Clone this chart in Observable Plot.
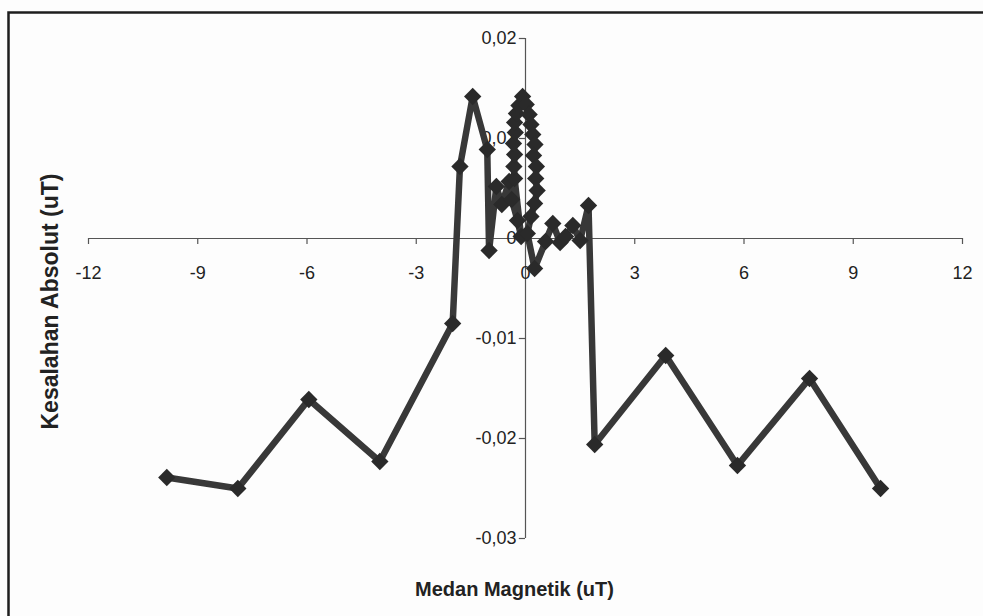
<!DOCTYPE html>
<html>
<head>
<meta charset="utf-8">
<script src="https://cdn.jsdelivr.net/npm/d3@7"></script>
<script src="https://cdn.jsdelivr.net/npm/@observablehq/plot@0.6"></script>
<style>
  html, body { margin: 0; padding: 0; background: #fdfdfd; }
  #chart { width: 983px; height: 616px; }
</style>
</head>
<body>
<div id="chart"></div>
<script>
// Medan Magnetik (uT)
const xs = [-9.85, -7.9, -5.95, -4.0, -2.0, -1.8, -1.45, -1.05, -1.0, -0.8, -0.65, -0.45, -0.38, -0.22, -0.12,
  -0.3, -0.32, -0.3, -0.33, -0.28, -0.3, -0.25, -0.18, -0.08, 0.02, 0.1, 0.15, 0.2, 0.26, 0.22, 0.3, 0.28, 0.32, 0.25, 0.15, 0.05, 0.25,
  0.55, 0.75, 0.95, 1.1, 1.3, 1.5, 1.73, 1.9, 3.85, 5.82, 7.8, 9.75];
// Kesalahan Absolut (uT)
const ys = [-0.0239, -0.025, -0.0161, -0.0223, -0.0085, 0.0072, 0.0142, 0.0089, -0.0012, 0.0052, 0.0034, 0.0057, 0.0039, 0.0018, 0.0002,
  0.0060, 0.0072, 0.0084, 0.0095, 0.0106, 0.0116, 0.0125, 0.0133, 0.0142, 0.0134, 0.0124, 0.0114, 0.0104, 0.0094, 0.0083, 0.0072, 0.0060, 0.0048, 0.0035, 0.0022, 0.0005, -0.0030,
  -0.0003, 0.0015, -0.0004, 0.0002, 0.0013, -0.0002, 0.0033, -0.0206, -0.0117, -0.0227, -0.0140, -0.0250];

const xTicks = [-12, -9, -6, -3, 0, 3, 6, 9, 12];
const xTickLabels = ["-12", "-9", "-6", "-3", "0", "3", "6", "9", "12"];
const yTicks = [-0.03, -0.02, -0.01, 0, 0.01, 0.02];
const yTickLabels = ["-0,03", "-0,02", "-0,01", "0", "0,01", "0,02"];

const xLabel = "Medan Magnetik (uT)";
const yLabel = "Kesalahan Absolut (uT)";

const data = xs.map((x, i) => ({x, y: ys[i]}));
const font = "'Liberation Sans', Arial, sans-serif";

const chart = Plot.plot({
  width: 983,
  height: 616,
  marginLeft: 88,
  marginRight: 21,
  marginTop: 38,
  marginBottom: 78,
  x: {domain: [-12, 12], axis: null},
  y: {domain: [-0.03, 0.02], axis: null},
  style: {fontFamily: font, background: "#fdfdfd", color: "#222"},
  marks: [
    Plot.frame({insetLeft: -80, insetTop: -26, insetRight: -60, insetBottom: -120, stroke: "#1e1e1e", strokeWidth: 2.5}),
    Plot.ruleY([0], {x1: -12, x2: 12, stroke: "#555", strokeWidth: 1.2}),
    Plot.ruleX([0], {y1: -0.03, y2: 0.02, stroke: "#555", strokeWidth: 1.2}),
    Plot.ruleX(xTicks, {x: d => d, y1: 0, y2: -0.0006, stroke: "#555", strokeWidth: 1.2}),
    Plot.ruleY(yTicks, {y: d => d, x1: 0, x2: -0.17, stroke: "#555", strokeWidth: 1.2}),
    Plot.text(xTicks, {x: d => d, y: 0, dy: 35, text: (d, i) => xTickLabels[i], fontSize: 18, fill: "#222"}),
    Plot.text(yTicks, {x: 0, y: d => d, dx: -9, textAnchor: "end", text: (d, i) => yTickLabels[i], fontSize: 18, fill: "#222"}),
    Plot.line(data, {x: "x", y: "y", stroke: "#383838", strokeWidth: 6.5, strokeLinejoin: "round"}),
    Plot.dot(data, {x: "x", y: "y", symbol: "diamond2", r: 7.8, fill: "#2a2a2a", stroke: "none"}),
    Plot.text([xLabel], {frameAnchor: "bottom", dx: -11, dy: 57, text: d => d, fontSize: 20, fontWeight: "bold", fill: "#222"}),
    Plot.text([yLabel], {x: -13.05, y: -0.0063, rotate: -90, text: d => d, fontSize: 23, fontWeight: "bold", fill: "#222"})
  ]
});
document.getElementById("chart").appendChild(chart);
</script>
</body>
</html>
